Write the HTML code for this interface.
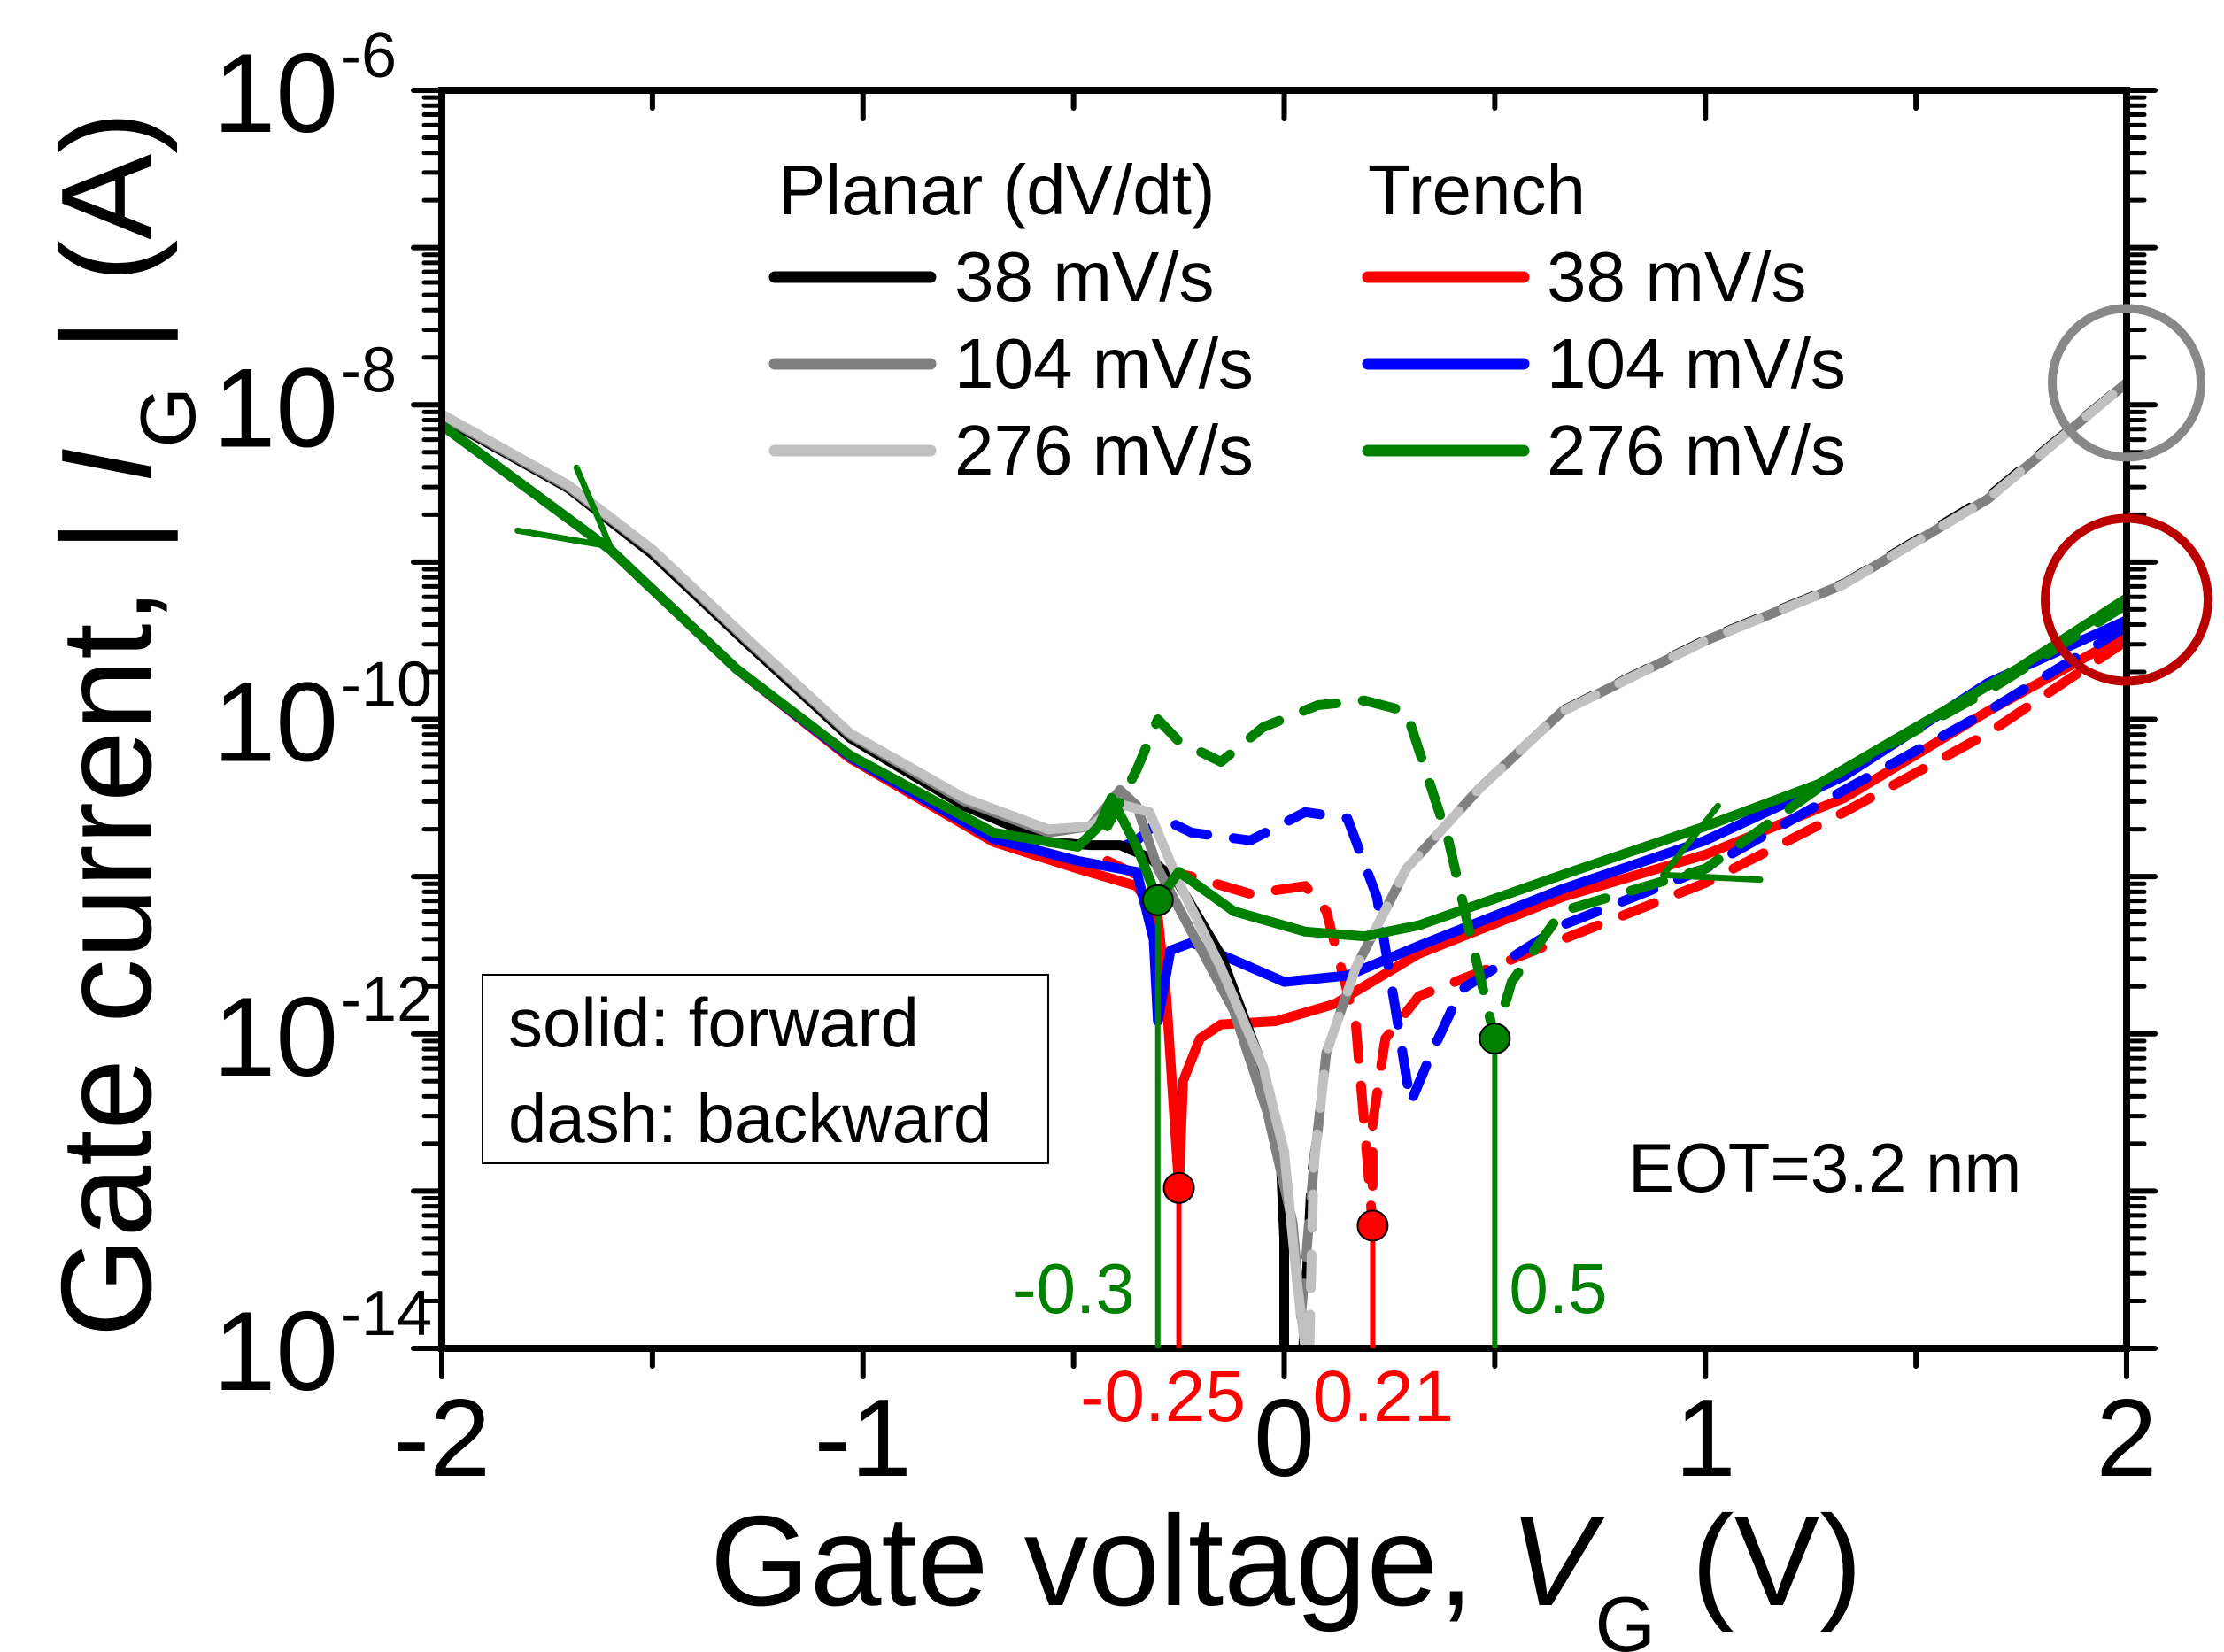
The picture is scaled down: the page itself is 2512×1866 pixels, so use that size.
<!DOCTYPE html>
<html><head><meta charset="utf-8"><style>
html,body{margin:0;padding:0;background:#fff;}
svg{display:block;font-family:"Liberation Sans",sans-serif;}
</style></head><body>
<svg id="chart" width="2512" height="1866" viewBox="0 0 2512 1866" xmlns="http://www.w3.org/2000/svg">
<g id="curves"></g>
<g id="axes"></g>
<g id="legend">
 <text x="879" y="242" font-size="80">Planar (dV/dt)</text>
 <text x="1545" y="242" font-size="80">Trench</text>
 <line x1="875" y1="313" x2="1051" y2="313" stroke="#000" stroke-width="13" stroke-linecap="round"/>
 <text x="1078" y="340" font-size="80">38 mV/s</text>
 <line x1="875" y1="411" x2="1051" y2="411" stroke="#808080" stroke-width="13" stroke-linecap="round"/>
 <text x="1078" y="438" font-size="80">104 mV/s</text>
 <line x1="875" y1="509" x2="1051" y2="509" stroke="#c0c0c0" stroke-width="13" stroke-linecap="round"/>
 <text x="1078" y="536" font-size="80">276 mV/s</text>
 <line x1="1545" y1="313" x2="1721" y2="313" stroke="#ff0000" stroke-width="13" stroke-linecap="round"/>
 <text x="1747" y="340" font-size="80">38 mV/s</text>
 <line x1="1545" y1="411" x2="1721" y2="411" stroke="#0000ff" stroke-width="13" stroke-linecap="round"/>
 <text x="1747" y="438" font-size="80">104 mV/s</text>
 <line x1="1545" y1="509" x2="1721" y2="509" stroke="#008000" stroke-width="13" stroke-linecap="round"/>
 <text x="1747" y="536" font-size="80">276 mV/s</text>
</g>
<g>
 <rect x="545" y="1101" width="639" height="213" fill="#fff" stroke="#000" stroke-width="2"/>
 <text x="574" y="1182" font-size="78">solid: forward</text>
 <text x="574" y="1290" font-size="78">dash: backward</text>
</g>
<text x="1839" y="1346" font-size="78">EOT=3.2 nm</text>
<g font-size="145">
 <text x="802" y="1813">Gate voltage, <tspan font-style="italic">V</tspan><tspan font-size="88" dy="52">G</tspan><tspan dy="-52"> (V)</tspan></text>
</g>
<g font-size="145">
 <text transform="translate(170,818) rotate(-90)" text-anchor="middle">Gate current, | <tspan font-style="italic">I</tspan><tspan font-size="88" dy="50">G</tspan><tspan dy="-50"> | (A)</tspan></text>
</g>
</svg>
<script>
// ---- data (V in volts, log10 of |I_G| in A) ----
const planar38F_V = [-2,-1.7,-1.5,-1.27,-1.03,-0.76,-0.56,-0.46,-0.39,-0.32,-0.25,-0.15,-0.06,-0.01,0,0];
const planar38F_L = [-8.08,-8.53,-8.95,-9.53,-10.12,-10.55,-10.78,-10.80,-10.80,-10.88,-11.05,-11.50,-12.15,-12.7,-13.3,-14];
const planar38B_V = [0.04,0.06,0.1,0.17,0.29,0.46,0.66,1.0,1.33,1.67,2.0];
const planar38B_L = [-14,-12.9,-12.15,-11.6,-10.95,-10.43,-9.93,-9.48,-9.12,-8.57,-7.84];
const planar104F_V = [-2,-1.7,-1.5,-1.27,-1.03,-0.76,-0.56,-0.46,-0.39,-0.35,-0.30,-0.22,-0.12,-0.04,0.02,0.04];
const planar104F_L = [-8.07,-8.52,-8.93,-9.51,-10.10,-10.52,-10.72,-10.68,-10.45,-10.55,-10.95,-11.35,-11.85,-12.5,-13.2,-13.8];
const planar104B_V = [0.04,0.07,0.1,0.17,0.29,0.46,0.66,1.0,1.33,1.67,2.0];
const planar104B_L = [-13.8,-12.85,-12.12,-11.58,-10.95,-10.45,-9.95,-9.50,-9.14,-8.60,-7.86];
const planar276F_V = [-2,-1.7,-1.5,-1.27,-1.03,-0.76,-0.56,-0.46,-0.39,-0.32,-0.25,-0.15,-0.05,0,0.03,0.05];
const planar276F_L = [-8.06,-8.51,-8.92,-9.50,-10.09,-10.50,-10.70,-10.68,-10.54,-10.59,-11.04,-11.58,-12.21,-12.75,-13.57,-14.0];
const planar276B_V = [0.06,0.07,0.10,0.17,0.29,0.46,0.66,1.0,1.33,1.67,2.0];
const planar276B_L = [-14.0,-12.84,-12.12,-11.58,-10.95,-10.45,-9.95,-9.50,-9.14,-8.60,-7.86];
const trench38F_V = [-2,-1.6,-1.3,-1.03,-0.69,-0.49,-0.35,-0.30,-0.28,-0.25,-0.24,-0.20,-0.15,-0.02,0.12,0.32,0.66,1.0,1.33,1.67,2.0];
const trench38F_L = [-8.13,-8.92,-9.68,-10.25,-10.78,-10.95,-11.06,-11.26,-11.76,-12.98,-12.30,-12.03,-11.94,-11.92,-11.81,-11.49,-11.13,-10.86,-10.50,-9.95,-9.46];
const trench38B_V = [2.0,1.67,1.33,1.0,0.66,0.32,0.24,0.21,0.21,0.19,0.17,0.10,0.05,-0.08,-0.22,-0.30,-0.35,-0.42];
const trench38B_L = [-9.50,-10.09,-10.59,-11.04,-11.40,-11.76,-12.03,-12.57,-13.22,-12.57,-11.94,-11.22,-11.06,-11.11,-11.0,-10.95,-10.99,-10.90];
const trench104F_V = [-2,-1.6,-1.3,-1.03,-0.69,-0.49,-0.35,-0.31,-0.30,-0.27,-0.22,-0.12,0,0.15,0.32,0.66,1.0,1.33,1.67,2.0];
const trench104F_L = [-8.13,-8.92,-9.68,-10.24,-10.76,-10.90,-10.97,-11.40,-11.92,-11.47,-11.42,-11.53,-11.67,-11.63,-11.44,-11.08,-10.77,-10.36,-9.77,-9.37];
const trench104B_V = [2.0,1.67,1.33,1.0,0.66,0.42,0.35,0.30,0.27,0.22,0.15,0.05,-0.08,-0.22,-0.29,-0.35,-0.42];
const trench104B_L = [-9.41,-9.95,-10.45,-10.95,-11.31,-11.72,-12.12,-12.44,-11.94,-11.13,-10.63,-10.59,-10.77,-10.72,-10.63,-10.77,-10.85];
const trench276F_V = [-2,-1.6,-1.3,-1.03,-0.69,-0.49,-0.44,-0.41,-0.35,-0.30,-0.25,-0.12,0.05,0.19,0.32,0.66,1.0,1.27,1.50,1.74,2.0];
const trench276F_L = [-8.13,-8.92,-9.68,-10.23,-10.72,-10.81,-10.68,-10.50,-10.81,-11.15,-10.97,-11.22,-11.35,-11.38,-11.31,-10.99,-10.68,-10.41,-10.05,-9.68,-9.23];
const trench276B_V = [2.0,1.67,1.33,1.0,0.66,0.54,0.50,0.46,0.39,0.29,0.19,0.08,-0.05,-0.15,-0.25,-0.30,-0.35,-0.42];
const trench276B_L = [-9.27,-9.82,-10.32,-10.95,-11.22,-11.67,-12.03,-11.58,-10.77,-9.95,-9.88,-9.91,-10.05,-10.27,-10.14,-10.0,-10.32,-10.68];
const markerV = [-0.30,-0.25,0.21,0.50];
const markerL = [-11.15,-12.98,-13.22,-12.03];
const markerLabels = ["-0.3","-0.25","0.21","0.5"];
const xTickValues = [-2,-1.5,-1,-0.5,0,0.5,1,1.5,2];
const xTickLabels = ["-2","","-1","","0","","1","","2"];
const yDecades = [-6,-7,-8,-9,-10,-11,-12,-13,-14];
const yDecadeLabels = ["-6","","-8","","-10","","-12","","-14"];

// ---- axis functions ----
const L=499,R=2402,T=102,B=1523;
const X=v=>L+(v+2)*(R-L)/4;
const Y=l=>T+(-6-l)*(B-T)/8;
const NS='http://www.w3.org/2000/svg';
function mk(tag,parent){const e=document.createElementNS(NS,tag);parent.appendChild(e);return e;}
const cg=document.getElementById('curves');
function series(Vs,Ls,color,dashed,name,w){
  const p=mk('path',cg);
  
  
  p.setAttribute('d',Vs.map((v,i)=>(i?'L':'M')+X(v).toFixed(1)+' '+Y(Math.max(-14,Ls[i])).toFixed(1)).join(' '));
  p.setAttribute('fill','none');p.setAttribute('stroke',color);
  p.setAttribute('stroke-width',w||11);p.setAttribute('stroke-linejoin','round');p.setAttribute('stroke-linecap','round');
  if(dashed)p.setAttribute('stroke-dasharray','38 30');
}
const clip=mk('clipPath',document.getElementById('chart'));clip.id='pc';
const cr=mk('rect',clip);cr.setAttribute('x',L);cr.setAttribute('y',T);cr.setAttribute('width',R-L);cr.setAttribute('height',B-T);
cg.setAttribute('clip-path','url(#pc)');
series(trench38F_V,trench38F_L,'#ff0000',false,'trench-38-forward');
series(trench38B_V,trench38B_L,'#ff0000',true,'trench-38-backward');
series(trench104F_V,trench104F_L,'#0000ff',false,'trench-104-forward');
series(trench104B_V,trench104B_L,'#0000ff',true,'trench-104-backward');
series(planar38F_V,planar38F_L,'#000',false,'planar-38-forward');
series(planar38B_V,planar38B_L,'#000',true,'planar-38-backward',6);
series(planar104F_V,planar104F_L,'#808080',false,'planar-104-forward');
series(planar104B_V,planar104B_L,'#808080',true,'planar-104-backward');
series(planar276F_V,planar276F_L,'#c0c0c0',false,'planar-276-forward');
series(planar276B_V,planar276B_L,'#c0c0c0',true,'planar-276-backward');
series(trench276F_V,trench276F_L,'#008000',false,'trench-276-forward');
series(trench276B_V,trench276B_L,'#008000',true,'trench-276-backward');
// direction arrows
const arrows=[[-1.6,-8.9,-1.82,-8.8,-1.68,-8.4],[0.90,-10.99,1.13,-11.02,1.03,-10.55]];
arrows.forEach((a,i)=>{
  [[a[2],a[3]],[a[4],a[5]]].forEach(q=>{
    const ln=mk('line',cg);
    
    
    ln.setAttribute('x1',X(a[0]));ln.setAttribute('y1',Y(a[1]));ln.setAttribute('x2',X(q[0]));ln.setAttribute('y2',Y(q[1]));
    ln.setAttribute('stroke','#008000');ln.setAttribute('stroke-width',7);ln.setAttribute('stroke-linecap','round');
  });
});
// markers with stems
const mcol=['#008000','#ff0000','#ff0000','#008000'];
const root=document.getElementById('chart');
const mg=mk('g',root);
markerV.forEach((v,i)=>{
  const s=mk('line',mg);
  
  
  s.setAttribute('x1',X(v));s.setAttribute('x2',X(v));s.setAttribute('y1',Y(markerL[i]));s.setAttribute('y2',B);
  s.setAttribute('stroke',mcol[i]);s.setAttribute('stroke-width',6);
  const c=mk('circle',mg);
  
  
  c.setAttribute('cx',X(v));c.setAttribute('cy',Y(markerL[i]));c.setAttribute('r',17);
  c.setAttribute('fill',mcol[i]);c.setAttribute('stroke','#000');c.setAttribute('stroke-width',2);
  const t=mk('text',mg);
  
  
  t.textContent=markerLabels[i];t.setAttribute('fill',mcol[i]);
  if(i===0){t.setAttribute('x',X(v)-26);t.setAttribute('y',1483);t.setAttribute('text-anchor','end');t.setAttribute('font-size',80);}
  if(i===3){t.setAttribute('x',X(v)+16);t.setAttribute('y',1483);t.setAttribute('font-size',80);}
  if(i===1){t.setAttribute('x',X(v)-18);t.setAttribute('y',1605);t.setAttribute('text-anchor','middle');t.setAttribute('font-size',82);}
  if(i===2){t.setAttribute('x',X(v)+12);t.setAttribute('y',1605);t.setAttribute('text-anchor','middle');t.setAttribute('font-size',82);}
});
// highlight circles
[[2,-7.86,84,'#888888'],[2,-9.24,92,'#bb0000']].forEach(h=>{
  const c=mk('circle',root);
  
  
  c.setAttribute('cx',X(h[0]));c.setAttribute('cy',Y(h[1]));c.setAttribute('r',h[2]);
  c.setAttribute('fill','none');c.setAttribute('stroke',h[3]);c.setAttribute('stroke-width',10);
});
// axes
const ag=document.getElementById('axes');
function ln(x1,y1,x2,y2,w,name){const e=mk('line',ag);
  
  
  e.setAttribute('x1',x1);e.setAttribute('y1',y1);e.setAttribute('x2',x2);e.setAttribute('y2',y2);
  e.setAttribute('stroke','#000');e.setAttribute('stroke-width',w);e.setAttribute('stroke-linecap','round');}
const fr=mk('rect',ag);


fr.setAttribute('x',L);fr.setAttribute('y',T);fr.setAttribute('width',R-L);fr.setAttribute('height',B-T);
fr.setAttribute('fill','none');fr.setAttribute('stroke','#000');fr.setAttribute('stroke-width',8);
xTickValues.forEach((v,i)=>{
  const big=xTickLabels[i]!=='';
  ln(X(v),B,X(v),B+(big?32:20),6,'x-tick');
  ln(X(v),T,X(v),T+(big?32:20),6,'x-tick-top');
  if(big){const t=mk('text',ag);
    
    
    t.textContent=xTickLabels[i];t.setAttribute('x',X(v));t.setAttribute('y',1667);
    t.setAttribute('font-size',124);t.setAttribute('text-anchor','middle');}
});
yDecades.forEach((d,i)=>{
  const big=yDecadeLabels[i]!=='';
  ln(L-32,Y(d),L,Y(d),6,'y-tick');ln(R,Y(d),R+32,Y(d),6,'y-tick-right');
  if(d>-14){for(let m=2;m<=9;m++){const y=Y(d-1+Math.log10(m));ln(L-20,y,L,y,5,'y-minor-tick');ln(R,y,R+20,y,5,'y-minor-tick-right');}}
  if(big){const t=mk('text',ag);
    
    
    t.setAttribute('x',382);t.setAttribute('y',Y(d)+47);t.setAttribute('font-size',127);t.setAttribute('text-anchor','end');
    t.textContent='10';
    const s=mk('text',ag);
    
    
    s.setAttribute('x',384);s.setAttribute('y',Y(d)-15);s.setAttribute('font-size',72);
    s.textContent=yDecadeLabels[i];}
});
</script>
</body></html>
